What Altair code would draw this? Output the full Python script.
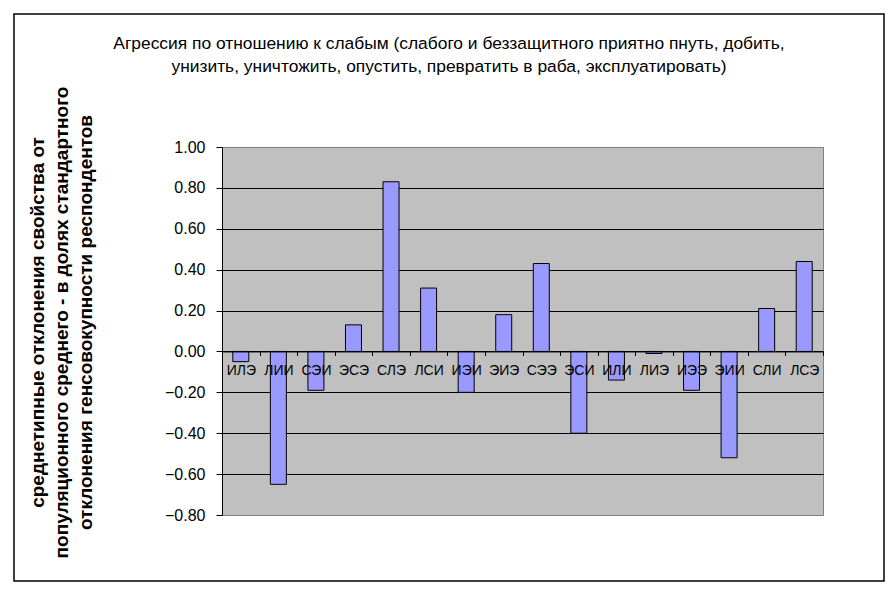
import altair as alt
import pandas as pd

# ---- data ----
types = ["ИЛЭ", "ЛИИ", "СЭИ", "ЭСЭ", "СЛЭ", "ЛСИ", "ИЭИ", "ЭИЭ",
         "СЭЭ", "ЭСИ", "ИЛИ", "ЛИЭ", "ИЭЭ", "ЭИИ", "СЛИ", "ЛСЭ"]
values = [-0.05, -0.65, -0.19, 0.13, 0.83, 0.31, -0.20, 0.18,
          0.43, -0.40, -0.14, -0.01, -0.19, -0.52, 0.21, 0.44]
y_ticks = [-0.8, -0.6, -0.4, -0.2, 0.0, 0.2, 0.4, 0.6, 0.8, 1.0]
title_lines = [
    "Агрессия по отношению к слабым (слабого и беззащитного приятно пнуть, добить,",
    "унизить, уничтожить, опустить, превратить в раба, эксплуатировать)",
]
y_title_lines = [
    "среднетипные отклонения свойства от",
    "популяционного среднего - в долях стандартного",
    "отклонения генсовокупности респондентов",
]

df = pd.DataFrame({"type": types, "value": values})

W, H = 601, 368
FONT = "Liberation Sans"
Y_MIN, Y_MAX = -0.8, 1.0
zero_from_bottom = H * (0 - Y_MIN) / (Y_MAX - Y_MIN)

bars = alt.Chart(df).mark_bar(
    size=16, fill="#9999FF", stroke="black", strokeWidth=1
).encode(
    x=alt.X(
        "type:N", sort=types,
        scale=alt.Scale(paddingInner=0, paddingOuter=0),
        axis=alt.Axis(
            title=None, labelAngle=0, labelFontSize=14, labelColor="black",
            labelFont=FONT, tickBand="extent", tickSize=4, tickColor="black",
            domainColor="black", offset=-zero_from_bottom, labelPadding=8,
            grid=False, zindex=1,
        ),
    ),
    y=alt.Y(
        "value:Q",
        scale=alt.Scale(domain=[Y_MIN, Y_MAX], nice=False, zero=False),
        axis=alt.Axis(
            values=y_ticks, format=".2f", labelFontSize=16, labelColor="black",
            labelFont=FONT, tickSize=6, tickColor="black", domainColor="black",
            labelPadding=11,
            grid=True,
            gridColor={"condition": {"test": "datum.value >= 0.999 || datum.value <= -0.799",
                                     "value": "#808080"},
                       "value": "black"},
            gridWidth=1,
            title=y_title_lines, titleFont=FONT, titleFontSize=19,
            titleFontWeight="bold", titleColor="black", titleAngle=270,
            titleAlign="center", titleBaseline="middle", titleLineHeight=24,
            titleX=-185, titleY=175,
        ),
    ),
)

one = alt.Data(values=[{"k": 1}])

frame = alt.Chart(one).mark_rect(
    filled=False, stroke="black", strokeWidth=1.5
).encode(
    x=alt.value(-208), x2=alt.value(662), y=alt.value(-133), y2=alt.value(434)
)

title = alt.Chart(one).mark_text(
    font=FONT, fontSize=17.4, color="black", align="center", baseline="middle",
    lineHeight=23,
).encode(
    x=alt.value(227), y=alt.value(-103), text=alt.value(title_lines)
)

chart = alt.layer(frame, bars, title).properties(
    width=W, height=H,
    autosize=alt.AutoSizeParams(type="none"),
    padding={"left": 214, "top": 139, "right": 64, "bottom": 70},
    background="white",
).configure(
    font=FONT,
    view=alt.ViewConfig(fill="#C0C0C0", stroke="#808080", strokeWidth=1),
)

chart.save("out.html", embed_options={"renderer": "svg", "actions": False})
